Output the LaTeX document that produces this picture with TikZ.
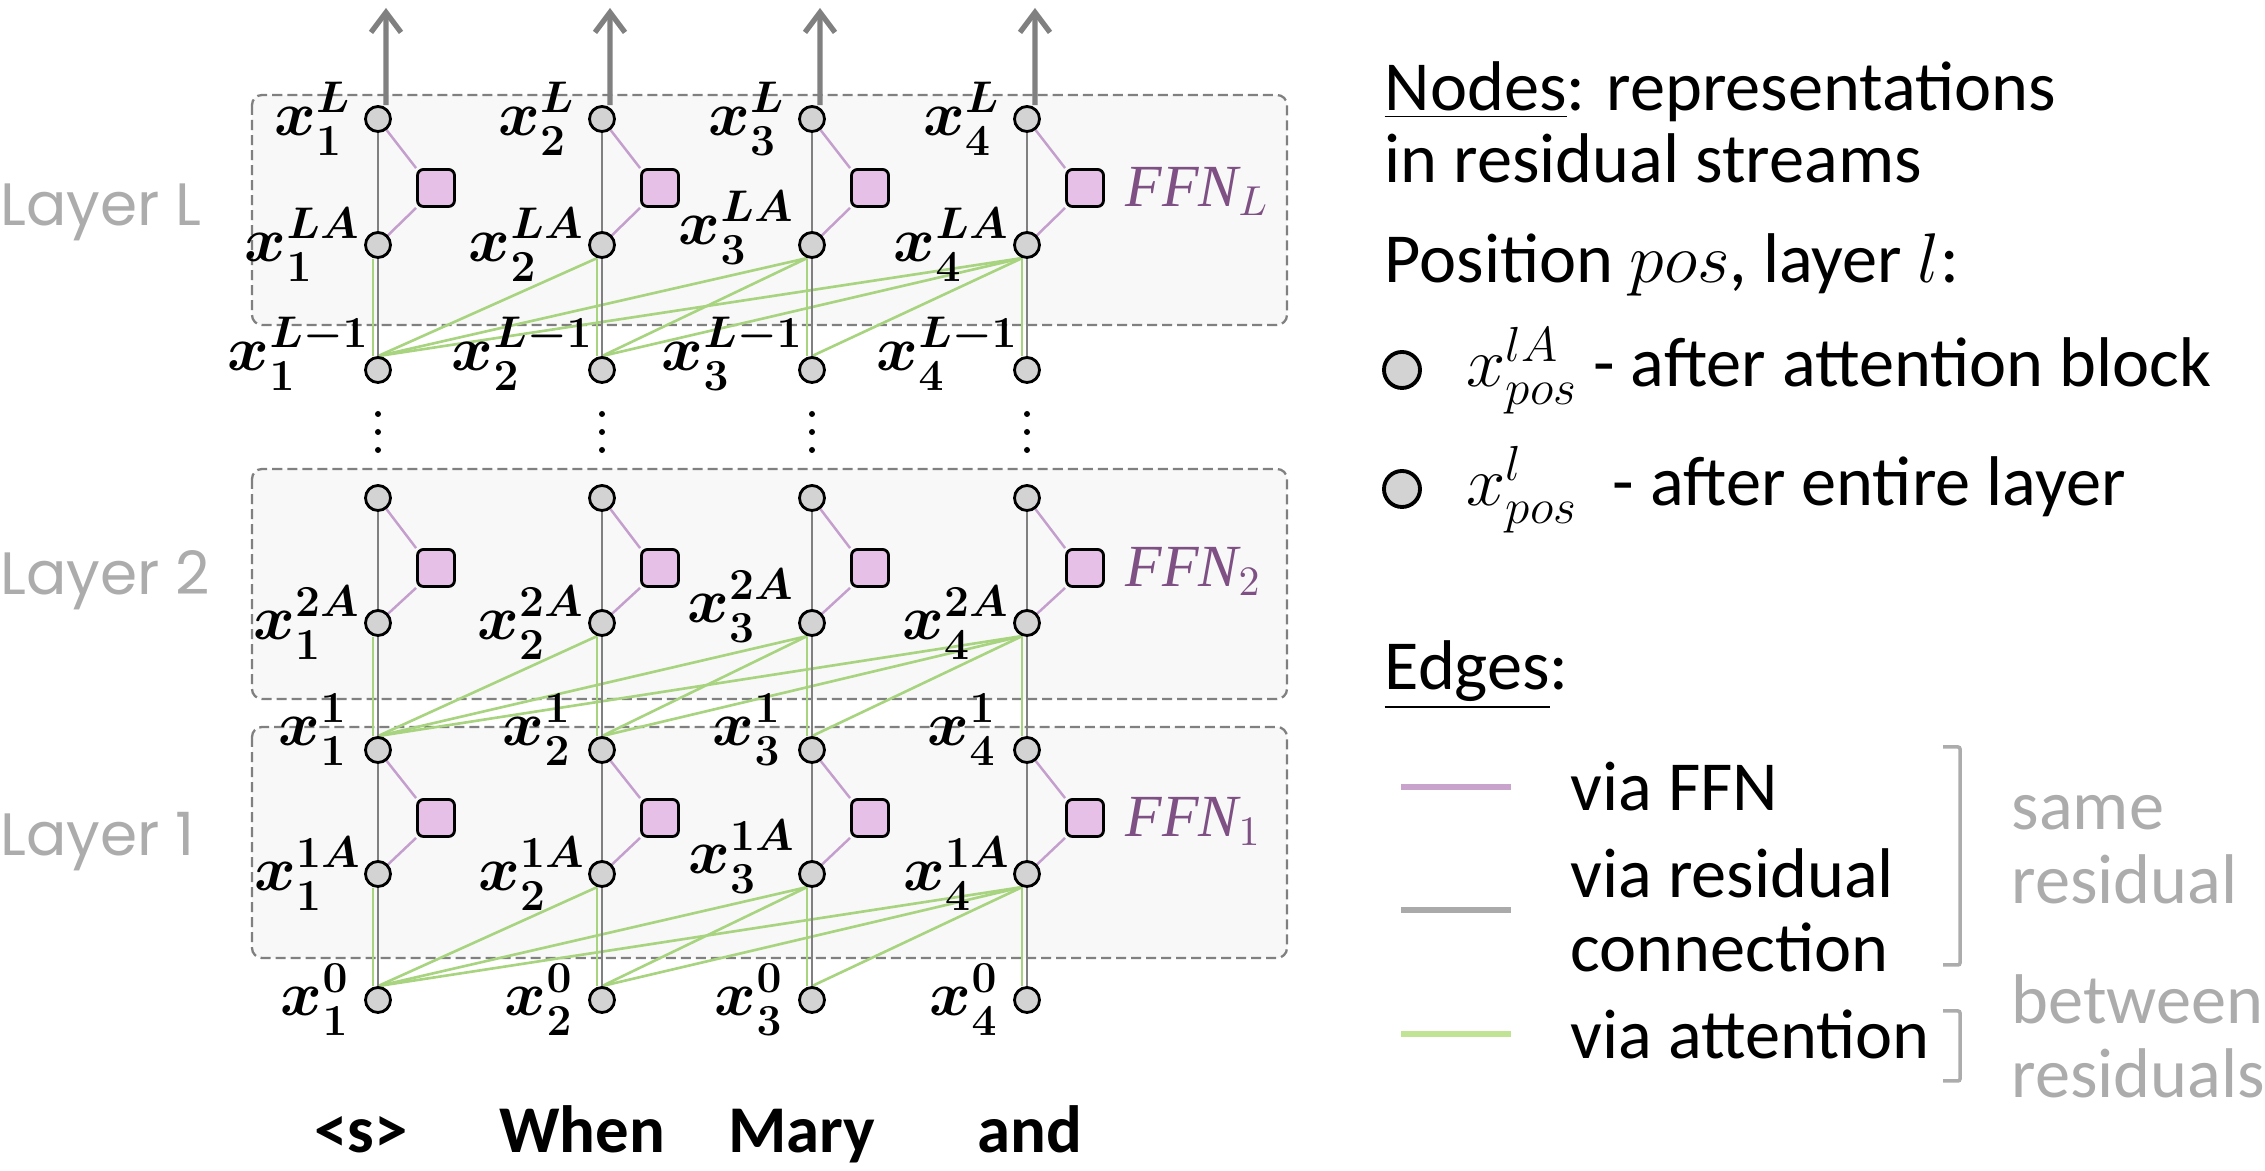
\documentclass[tikz,border=0pt]{standalone}
\usepackage{fix-cm}
\usepackage{fontspec}
\setmainfont{Carlito}
\newfontfamily\layerfont{Poppins}
\newfontfamily\ffnfont{Liberation Serif}
\usetikzlibrary{positioning,arrows.meta}

\definecolor{boxgray}{RGB}{128,128,128}
\definecolor{boxbg}{RGB}{248,248,248}
\definecolor{repgray}{RGB}{211,211,211}
\definecolor{ffnpink}{RGB}{230,192,230}
\definecolor{ffnedge}{RGB}{196,158,204}
\definecolor{attgreen}{RGB}{168,212,128}
\definecolor{ffnpurple}{RGB}{126,80,132}
\definecolor{hintgray}{RGB}{172,172,172}
\definecolor{keypurple}{RGB}{200,164,205}
\definecolor{keygray}{RGB}{170,170,170}
\definecolor{keygreen}{RGB}{192,228,148}

\pgfdeclarelayer{boxes}
\pgfdeclarelayer{edges}
\pgfsetlayers{boxes,edges,main}

\begin{document}
\begin{tikzpicture}[
  x=0.01cm, y=-0.01cm,
  layerbox/.style={draw=boxgray, fill=boxbg, line width=0.65pt, dash pattern=on 0.1cm off 0.05cm, rounded corners=0.1cm},
  rep/.style={circle, draw, fill=repgray, line width=0.8pt, minimum size=0.25cm, inner sep=0pt},
  keyrep/.style={rep, line width=1.1pt, minimum size=0.36cm},
  ffn/.style={draw, fill=ffnpink, line width=0.8pt, rounded corners=0.06cm, minimum size=0.37cm, inner sep=0pt},
  resid/.style={draw=boxgray, line width=0.8pt},
  viaffn/.style={draw=ffnedge, line width=0.7pt},
  attn/.style={draw=attgreen, line width=0.75pt},
  outarrow/.style={-{Straight Barb[length=0.2cm, width=0.3cm]}, draw=boxgray, line width=1.5pt},
  xlbl/.style={font=\fontsize{18}{18}\selectfont\boldmath, inner sep=0pt},
  ffnlbl/.style={font=\ffnfont\itshape\fontsize{17}{17}\selectfont, text=ffnpurple, inner sep=0pt},
  layerlbl/.style={font=\layerfont\fontsize{17}{17}\selectfont, text=hintgray, anchor=west, inner sep=0pt},
  token/.style={font=\fontsize{19}{19}\selectfont\bfseries, inner sep=0pt, anchor=base},
  legtext/.style={font=\fontsize{20}{21}\selectfont, inner sep=0pt, align=left},
  keyline/.style={line width=1.6pt},
  bracket/.style={draw=hintgray, line width=1pt, rounded corners=0.02cm}
]
\useasboundingbox (0,0) rectangle (2265,1171);

\begin{pgfonlayer}{boxes}
\draw[layerbox] (252,95) rectangle (1287,325);
\draw[layerbox] (252,469) rectangle (1287,699);
\draw[layerbox] (252,727) rectangle (1287,958);
\end{pgfonlayer}

\node[layerlbl] (layL) at (0,212) {Layer L};
\node[layerlbl] (lay2) at (0,580) {Layer 2};
\node[layerlbl] (lay1) at (0,842) {Layer 1};

\foreach \i/\cx/\up in {1/378/0,2/602/0,3/812/0.17,4/1027/0} {
  \node[rep] (tL\i) at (\cx,119) {};
  \node[ffn] (fL\i) at (\cx+58,188) {};
  \node[rep] (aL\i) at (\cx,245) {};
  \node[rep] (tLm\i) at (\cx,370) {};
  \node[rep] (t2\i) at (\cx,498) {};
  \node[ffn] (f2\i) at (\cx+58,568) {};
  \node[rep] (a2\i) at (\cx,623) {};
  \node[rep] (t1\i) at (\cx,750) {};
  \node[ffn] (f1\i) at (\cx+58,818) {};
  \node[rep] (a1\i) at (\cx,874) {};
  \node[rep] (t0\i) at (\cx,1000) {};
  \foreach \dy in {414,432,450}
    \fill (\cx,\dy) circle (0.03cm);
  \coordinate (top\i) at (\cx+8,8);

  \node[xlbl, left=0.12cm of tL\i] (ltL\i) {$x_\i^L$};
  \node[xlbl, left=0.03cm of aL\i, yshift=\up cm] (laL\i) {$x_\i^{LA}$};
  \node[xlbl, left=-0.06cm of tLm\i, yshift=0.16cm] (ltLm\i) {$x_\i^{L-1}$};
  \node[xlbl, left=0.03cm of a2\i, yshift=\up cm] (la2\i) {$x_\i^{2A}$};
  \node[xlbl, left=0.16cm of t1\i, yshift=0.2cm] (lt1\i) {$x_\i^1$};
  \node[xlbl, left=0.02cm of a1\i, yshift=\up cm] (la1\i) {$x_\i^{1A}$};
  \node[xlbl, left=0.14cm of t0\i] (lt0\i) {$x_\i^0$};
}

\node[ffnlbl, right=0.2cm of fL4, yshift=-0.03cm] (ffnL) {FFN$_L$};
\node[ffnlbl, right=0.2cm of f24, yshift=-0.03cm] (ffn2) {FFN$_2$};
\node[ffnlbl, right=0.2cm of f14, yshift=-0.03cm] (ffn1) {FFN$_1$};

\begin{pgfonlayer}{edges}
\foreach \s/\t in {tLm/aL,t1/a2,t0/a1}
  \foreach \i in {1,...,4}
    \foreach \j in {1,...,\i} {
      \ifnum\i=\j
        \draw[attn] ([xshift=-0.05cm]\s\j.north) -- ([xshift=-0.05cm]\t\i.south);
      \else
        \draw[attn] (\s\j.north) -- (\t\i.250);
      \fi
    }
\foreach \i in {1,...,4} {
  \draw[resid] (tLm\i) -- (aL\i) -- (tL\i);
  \draw[resid] (t1\i) -- (a2\i) -- (t2\i);
  \draw[resid] (t0\i) -- (a1\i) -- (t1\i);
  \draw[viaffn] (aL\i) -- (fL\i.south west);
  \draw[viaffn] (fL\i.north west) -- (tL\i);
  \draw[viaffn] (a2\i) -- (f2\i.south west);
  \draw[viaffn] (f2\i.north west) -- (t2\i);
  \draw[viaffn] (a1\i) -- (f1\i.south west);
  \draw[viaffn] (f1\i.north west) -- (t1\i);
  \draw[outarrow] ([xshift=0.08cm]tL\i.north) -- (top\i);
}
\end{pgfonlayer}

\node[token] (tok1) at (361,1153) {<s>};
\node[token] (tok2) at (582,1153) {When};
\node[token] (tok3) at (802,1153) {Mary};
\node[token] (tok4) at (1030,1153) {and};

\node[legtext, anchor=base west] (nodeshead) at (1384,111) {\underline{Nodes}: representations};
\node[legtext, anchor=base west] (nodesline) at (1384,183) {in residual streams};
\node[legtext, anchor=base west] (posline) at (1384,283) {Position $pos$, layer $l$:};
\node[keyrep] (keyA) at (1402,370) {};
\node[legtext, anchor=base west] (keyAtxt) at (1466,387) {$x_{pos}^{lA}$ - after attention block};
\node[keyrep] (keyB) at (1402,489) {};
\node[legtext, anchor=base west] (keyBtxt) at (1466,506) {$x_{pos}^{l}$\enspace- after entire layer};
\node[legtext, anchor=base west] (edgeshead) at (1384,690) {\underline{Edges}:};

\coordinate (ffnkey) at (1401,787);
\coordinate (residkey) at (1401,910);
\coordinate (attnkey) at (1401,1034);
\draw[keyline, draw=keypurple] (ffnkey) -- ++(110,0);
\draw[keyline, draw=keygray] (residkey) -- ++(110,0);
\draw[keyline, draw=keygreen] (attnkey) -- ++(110,0);
\node[legtext, anchor=west] (ffntxt) at (1570,787) {via FFN};
\node[legtext, anchor=west] (residtxt) at (1570,910) {via residual\\connection};
\node[legtext, anchor=west] (attntxt) at (1570,1034) {via attention};

\draw[bracket] (1943,747) -- (1960,747) -- (1960,965) -- (1943,965);
\draw[bracket] (1943,1011) -- (1960,1011) -- (1960,1081) -- (1943,1081);
\node[legtext, text=hintgray, anchor=west] (same) at (2011,850) {same\\residual};
\node[legtext, text=hintgray, anchor=west] (between) at (2011,1036) {between\\residuals};
\end{tikzpicture}
\end{document}
